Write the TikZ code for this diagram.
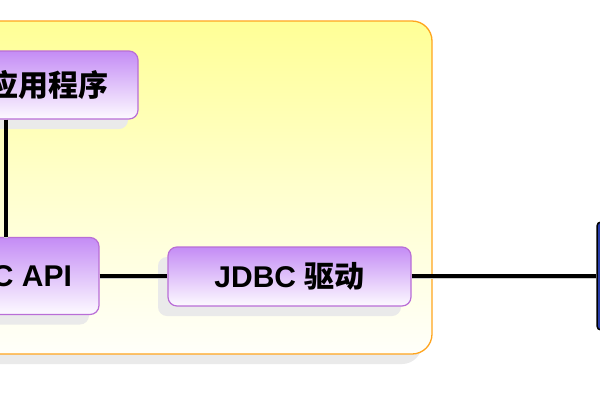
\documentclass[tikz,border=0pt]{standalone}
\usepackage{fontspec}
\setmainfont{Liberation Sans}
\newfontfamily\cjk{Noto Sans CJK SC}
\usetikzlibrary{shadows}
\definecolor{purptop}{RGB}{196,140,245}
\definecolor{purpbot}{RGB}{253,250,255}
\definecolor{purpline}{RGB}{185,110,215}
\definecolor{yeltop}{RGB}{255,255,150}
\definecolor{yelmid}{RGB}{255,255,205}
\definecolor{yelbot}{RGB}{255,255,250}
\definecolor{orangeline}{RGB}{255,165,30}
\definecolor{shadowgray}{RGB}{234,234,234}
\definecolor{dbfill}{RGB}{40,60,170}
\begin{document}
\begin{tikzpicture}[x=1pt,y=-1pt,
  shd/.style={drop shadow={shadow xshift=-10pt,shadow yshift=-10pt,fill=shadowgray,opacity=1}},
  container/.style={draw=orangeline,line width=1.3pt,rounded corners=20pt,
    top color=yeltop,bottom color=yelbot,middle color=yelmid,shd,inner sep=0pt},
  box/.style={draw=purpline,line width=1.2pt,rounded corners=9pt,
    top color=purptop,bottom color=purpbot,shd,inner sep=0pt,
    font=\fontsize{30}{30}\selectfont\bfseries},
  dbbox/.style={draw=black,line width=1.5pt,rounded corners=4pt,fill=dbfill,inner sep=0pt},
  conn/.style={line width=3.5pt,black,
    preaction={draw=black!20,line width=3.5pt,transform canvas={yshift=-1.5pt}}}]
\clip (0,0) rectangle (600,400);
\fill[white] (0,0) rectangle (600,400);
\node[container,minimum width=492pt,minimum height=333pt] (grp) at (186,187.5) {};
\node[box,minimum width=178pt,minimum height=68pt] (app) at (49,85) {\cjk\bfseries 应用程序};
\node[box,minimum width=194pt,minimum height=77pt] (api) at (2,276) {JDBC API};
\node[box,minimum width=243pt,minimum height=59pt] (drv) at (289.5,276.5) {JDBC {\cjk\bfseries 驱动}};
\node[dbbox,minimum width=100pt,minimum height=108pt] (db) at (647,276) {};
\coordinate (vx) at (6,0);
\draw[conn] (app.south -| vx) -- (api.north -| vx);
\draw[conn] (api.east) -- (api.east -| drv.west);
\draw[conn] (drv.east |- api.east) -- (db.west |- api.east);
\end{tikzpicture}
\end{document}
